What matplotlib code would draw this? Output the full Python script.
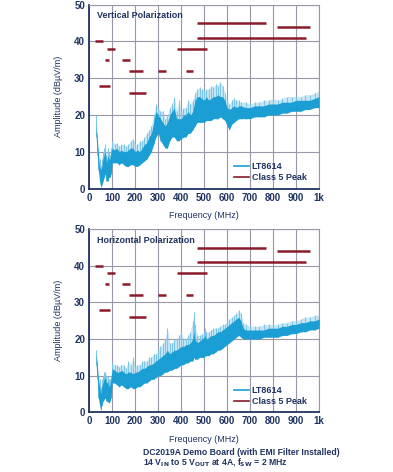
import matplotlib.pyplot as plt
from matplotlib.lines import Line2D

# Vertical polarization spectrum (MHz, dBuV/m) : lower / upper band and light peaks
freq_v = [30, 35, 40, 45, 50, 55, 60, 65, 70, 75, 80, 85, 90, 95, 100, 110, 120, 130, 140, 150,
          160, 170, 180, 190, 200, 210, 220, 230, 240, 250, 260, 270, 280, 290, 300, 310, 320, 330,
          340, 350, 360, 370, 380, 390, 400, 410, 420, 430, 440, 450, 460, 470, 480, 490, 500, 510,
          520, 530, 540, 550, 560, 570, 580, 590, 600, 610, 620, 630, 640, 650, 660, 680, 700, 720,
          740, 760, 780, 800, 820, 840, 860, 880, 900, 920, 940, 960, 980, 1000]
lo_v = [14, 9, 5, 2, 0.5, 1, 2, 3, 4, 2, 2, 3, 3, 4, 7, 7, 7, 6.5, 7, 6.5,
        6, 6, 6.5, 6.5, 6, 6, 6.5, 7, 7.5, 8, 9, 10, 12, 14, 15, 13, 12, 11,
        11, 13, 14, 14, 13, 13, 13.5, 14, 14, 15, 15, 16, 17, 18, 18, 18, 18, 18.5,
        18.5, 18.5, 19, 19, 19, 19.5, 19, 18.5, 17, 16, 17.5, 18, 18.5, 19, 19, 19, 19, 19.5,
        19.5, 19.5, 20, 20, 20, 20.5, 20.5, 21, 21, 21, 21.5, 21.5, 22, 22]
hi_v = [17, 13, 9, 6, 5, 6, 8, 9, 10, 7, 9, 8, 8, 10, 11, 10.5, 11, 10, 10.5, 10,
        10, 10.5, 11, 11, 10, 10.5, 10, 11, 12, 12.5, 14, 15, 18, 21, 20, 19, 18, 17,
        18, 20, 21, 22, 19, 19, 19, 20, 20, 21, 20, 21, 24, 25, 25, 24.5, 24, 25,
        24, 24.5, 25, 25, 25.5, 25, 25, 24, 22, 21.5, 22, 22.5, 22, 22.5, 22.5, 22, 22, 22.5,
        22.5, 22.5, 23, 23, 23, 23.5, 23.5, 23.5, 24, 24, 24, 24, 24.5, 25]
pk_v = [20, 15, 11, 8, 6, 8, 10, 11, 12, 9, 11, 10, 9, 11, 13, 12, 12.5, 11.5, 12, 12,
        11.5, 12, 13, 13.5, 12, 12, 13, 13, 14, 15, 16, 17, 20, 23, 22, 21, 21, 19,
        20, 22, 23, 25, 21, 24, 21, 22, 22, 24, 23, 24, 26, 27, 27.5, 27, 26.5, 27,
        27, 28, 27.5, 28.5, 28, 29, 28, 26, 24, 23, 24, 24.5, 24, 24, 23.5, 23.5, 23, 23.5,
        23.5, 24, 24, 24.5, 24, 24.5, 25, 25, 25, 25, 25.5, 25.5, 26, 26.5]

# Horizontal polarization spectrum
freq_h = [30, 35, 40, 45, 50, 55, 60, 65, 70, 75, 80, 85, 90, 95, 100, 110, 120, 130, 140, 150,
          160, 170, 180, 190, 200, 210, 220, 230, 240, 250, 260, 270, 280, 290, 300, 310, 320, 330,
          340, 350, 360, 370, 380, 390, 400, 410, 420, 430, 440, 450, 455, 460, 470, 480, 490, 500,
          505, 510, 520, 530, 540, 550, 560, 570, 580, 590, 600, 610, 620, 630, 640, 650, 660, 670,
          680, 700, 720, 740, 760, 780, 800, 820, 840, 860, 880, 900, 920, 940, 960, 980, 1000]
lo_h = [13, 9, 4, 2, 0.5, 2, 3, 3.5, 4, 3, 3, 2.5, 3, 4, 8, 8, 7.5, 7, 7.5, 7,
        6.5, 6.5, 7, 6.5, 6.5, 7, 7, 7.5, 8, 8, 8.5, 9, 9, 9.5, 10, 10, 10.5, 11,
        11, 11.5, 11.5, 12, 12, 12.5, 13, 13, 13.5, 13.5, 14, 14, 15, 14.5, 14.5, 15, 15, 15,
        15.5, 15.5, 15.5, 16, 16, 16.5, 17, 17, 17.5, 18, 18.5, 19, 19.5, 20, 20.5, 21, 20.5, 20,
        20, 20, 20, 20, 20.5, 20.5, 20.5, 20.5, 21, 21, 21.5, 21.5, 22, 22, 22.5, 22.5, 23]
hi_h = [16, 13, 9, 7, 5, 7, 8, 9, 9.5, 8, 8.5, 7, 7.5, 9, 12, 11.5, 11, 11, 11.5, 11,
        10.5, 11, 11, 10.5, 11, 11, 11.5, 12, 12, 12.5, 13, 13, 13.5, 14, 14.5, 15, 15.5, 16,
        17, 16, 16.5, 17, 17, 17.5, 18, 18, 18.5, 18.5, 19, 20, 22, 20, 19, 19.5, 20, 20.5,
        21, 20, 20.5, 21, 21, 21.5, 22, 22, 22.5, 23, 23.5, 24, 24.5, 25, 25.5, 26, 25, 23,
        22.5, 22.5, 22.5, 22.5, 22.5, 23, 23, 23, 23.5, 23.5, 24, 24, 24.5, 24.5, 25, 25, 25.5]
pk_h = [17, 14, 10, 9, 7, 9, 10, 11, 11, 10, 10, 9, 9, 10, 13.5, 13, 13, 12.5, 13, 13,
        12, 14, 13, 15, 12.5, 13, 13, 14, 14, 14, 15, 15, 16, 16, 17, 18, 19, 20,
        23, 19, 19, 20, 20, 21, 22, 20, 20, 21, 22, 25, 27.5, 24, 21, 21, 21.5, 22,
        23, 22, 22, 22.5, 23, 23, 23, 23.5, 24, 24, 25, 25.5, 26, 26.5, 27, 28, 27, 24.5,
        24, 23.5, 23.5, 23.5, 24, 24, 24, 24, 24.5, 24.5, 25, 25, 25.5, 26, 26, 26.5, 26.5]

# Class 5 peak limits: start, stop (MHz), level (dBuV/m)
lim_start = [25, 41, 68, 76, 142, 172, 171, 298, 380, 420, 471, 467, 818]
lim_stop = [58, 90, 88, 110, 176, 232, 245, 333, 512, 451, 771, 945, 960]
lim_level = [40, 28, 35, 38, 35, 32, 26, 32, 38, 32, 45, 41, 44]

x_ticks = [0, 100, 200, 300, 400, 500, 600, 700, 800, 900, 1000]
x_labels = ['0', '100', '200', '300', '400', '500', '600', '700', '800', '900', '1k']
y_ticks = [0, 10, 20, 30, 40, 50]

navy = '#1f3461'
blue = '#1b9ed3'
light = '#7cc6e8'
red = '#8b1a2b'
gridc = '#9a98a8'

plt.rcParams['font.family'] = ['Liberation Sans', 'DejaVu Sans']
plt.rcParams['font.weight'] = 'bold'

fig = plt.figure(figsize=(3.93, 4.72), dpi=100)
ax1 = fig.add_axes([0.227, 0.6006, 0.585, 0.3895])
ax2 = fig.add_axes([0.227, 0.1265, 0.585, 0.3877])

panels = [(ax1, 'Vertical Polarization', freq_v, lo_v, hi_v, pk_v),
          (ax2, 'Horizontal Polarization', freq_h, lo_h, hi_h, pk_h)]

for ax, title, f, lo, hi, pk in panels:
    # light spikes above the main band, then the band itself
    ax.fill_between(f, hi, pk, color=light, alpha=0.45, lw=0, zorder=2)
    ax.vlines(f, lo, pk, color=light, lw=0.7, zorder=2)
    ax.fill_between(f, lo, hi, color=blue, lw=0, zorder=3)
    ax.hlines(lim_level, lim_start, lim_stop, color=red, lw=1.8, zorder=4)

    ax.set_xlim(0, 1000)
    ax.set_ylim(0, 50)
    ax.set_xticks(x_ticks)
    ax.set_xticklabels(x_labels)
    ax.set_yticks(y_ticks)
    ax.tick_params(length=0, labelsize=7, labelcolor=navy, pad=3)
    ax.grid(True, color=gridc, lw=0.8)
    ax.set_axisbelow(True)
    for s in ['top', 'right']:
        ax.spines[s].set_color(gridc)
        ax.spines[s].set_linewidth(0.8)
    for s in ['left', 'bottom']:
        ax.spines[s].set_color(navy)
        ax.spines[s].set_linewidth(1.3)

    ax.set_xlabel('Frequency (MHz)', fontsize=6.5, color=navy, labelpad=6)
    ax.set_ylabel('Amplitude (dBµV/m)', fontsize=6.5, color=navy, labelpad=8)
    ax.text(0.032, 0.94, title, transform=ax.transAxes, fontsize=6.5,
            color=navy, va='center', ha='left')

    handles = [Line2D([], [], color=blue, lw=1.2), Line2D([], [], color=red, lw=1.2)]
    leg = ax.legend(handles, ['LT8614', 'Class 5 Peak'], loc='lower right',
                    bbox_to_anchor=(0.945, 0.035), frameon=False, fontsize=6.5,
                    borderpad=0, borderaxespad=0,
                    handlelength=1.7, handletextpad=0.3, labelspacing=0.2)
    for t in leg.get_texts():
        t.set_color(navy)

fig.text(0.364, 0.042, 'DC2019A Demo Board (with EMI Filter Installed)', fontsize=6.2,
         color=navy, ha='left', va='center')
fig.text(0.364, 0.021, '14 V$_{\\mathbf{IN}}$ to 5 V$_{\\mathbf{OUT}}$ at 4A, f$_{\\mathbf{SW}}$ = 2 MHz',
         fontsize=6.2, color=navy, ha='left', va='center')

fig.savefig('out.png', dpi=100)
